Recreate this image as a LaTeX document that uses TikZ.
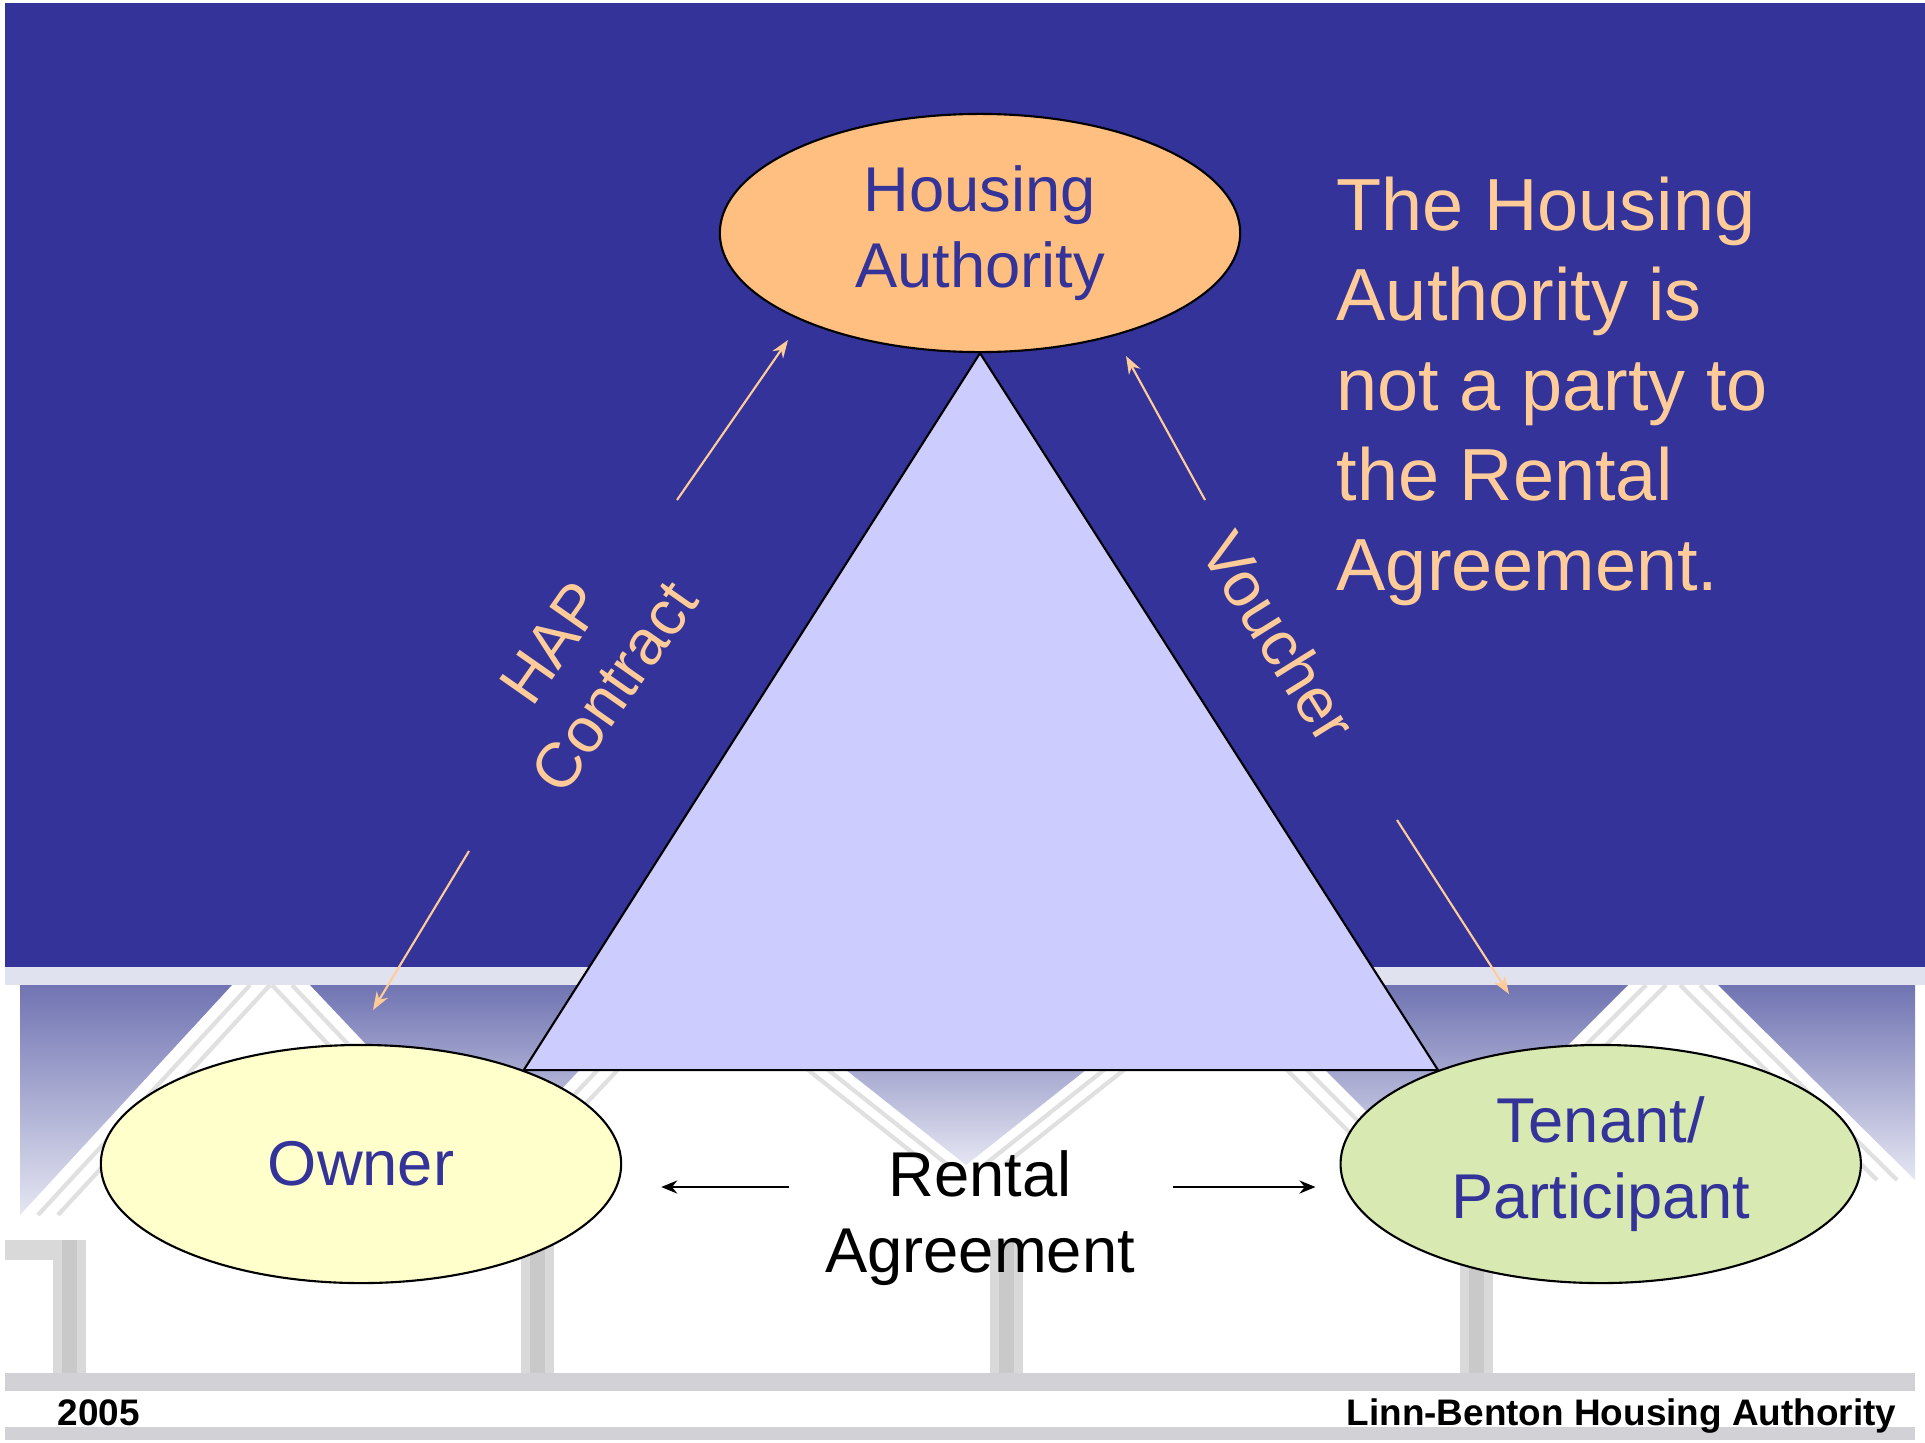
\documentclass[tikz,border=0pt]{standalone}
\usepackage{fontspec}
\setmainfont{Liberation Sans}
\usepackage{tikz}
\usetikzlibrary{arrows.meta, shapes.geometric, calc, positioning}
\definecolor{slideblue}{RGB}{51,51,153}
\definecolor{peach}{RGB}{255,204,153}
\definecolor{haorange}{RGB}{255,191,128}
\definecolor{ownyellow}{RGB}{255,255,204}
\definecolor{tengreen}{RGB}{216,234,178}
\definecolor{trililac}{RGB}{204,204,255}
\definecolor{roofblue}{RGB}{112,116,178}
\definecolor{rooflight}{RGB}{212,213,234}
\definecolor{bargray}{RGB}{210,210,214}

\begin{document}
\begin{tikzpicture}[x=0.01cm, y=-0.01cm, node distance=12.39cm, party/.style={ellipse, draw, line width=0.6pt, minimum width=5.2cm, minimum height=2.38cm, inner sep=0pt, align=center, text=slideblue, font=\fontsize{18}{21.6}\selectfont}, flow/.style={draw=peach, line width=0.6pt, -{Stealth[length=0.18cm, width=0.13cm]}}, deal/.style={draw=black, line width=0.7pt, -{Stealth[length=0.16cm, width=0.13cm]}}, lbl/.style={text=peach, align=center, inner sep=0pt, font=\fontsize{18}{21.6}\selectfont}, stripe/.style={draw=black!12, line width=1.2pt}, post/.style={fill=black!15}]
\useasboundingbox (0,0) rectangle (1925,1442);
\fill[white] (0,0) rectangle (1925,1442);
% faded roof behind the lower half
\fill[rooflight!70] (5,967) rectangle (1925,985);
\foreach \xa/\xb/\xm/\ym in {20/232/20/1215, 310/660/485/1170, 739/1193/966/1165, 1240/1628/1434/1179, 1718/1915/1915/1180}
  \shade[top color=roofblue, bottom color=rooflight!60] (\xa,985) -- (\xb,985) -- (\xm,\ym) -- cycle;
\foreach \xa/\xb/\yb/\o in {232/20/1215/18, 232/20/1215/38, 310/485/1170/-18, 310/485/1170/-38, 660/485/1170/18, 660/485/1170/38, 739/966/1165/-18, 739/966/1165/-38, 1193/966/1165/18, 1193/966/1165/38, 1240/1434/1179/-18, 1240/1434/1179/-38, 1628/1434/1179/18, 1628/1434/1179/38, 1718/1915/1180/-18, 1718/1915/1180/-38}
  \draw[stripe] ({\xa+(\o)},985) -- ({\xb+(\o)},\yb);
\fill[post] (5,1240) rectangle (86,1260);
\foreach \px in {53, 521, 990, 1460} {
  \fill[post] (\px,1240) rectangle ++(33,133);
  \fill[black!21] ({\px+9},1240) rectangle ++(15,133);
}
\fill[bargray] (5,1373) rectangle (1915,1391);
\fill[bargray] (5,1427) rectangle (1915,1440);
\fill[slideblue] (5,3) rectangle (1925,967);

\node[party, fill=haorange] (HA) at (980,233) {Housing\\Authority};
\node[party, fill=ownyellow] (OWNER) at (361,1164) {Owner};
\node[party, fill=tengreen] (TENANT) [right of=OWNER] {Tenant/\\Participant};
\filldraw[fill=trililac, line width=0.6pt] (HA.south) -- (OWNER.30) -- (TENANT.150) -- cycle;
\node[align=center, inner sep=0pt, font=\fontsize{18}{21.6}\selectfont] (RENTAL) at (980,1218) {Rental\\Agreement};
\node[lbl, rotate=55] (HAP) at (583,665) {HAP\\Contract};
\node[lbl, rotate=-58] (VOUCHER) at (1279,637) {Voucher};
\node[anchor=north west, inner sep=0pt, align=left, text=peach, font=\fontsize{21}{25.6}\selectfont] (NOTE) at (1336,176) {The Housing\\Authority is\\not a party to\\the Rental\\Agreement.};
\node[anchor=base west, inner sep=0pt, font=\bfseries\fontsize{10.5}{12}\selectfont] (YEAR) at (57,1425) {2005};
\node[anchor=base east, inner sep=0pt, font=\bfseries\fontsize{10.5}{12}\selectfont] (LBHA) at (1897,1425) {Linn-Benton Housing Authority};

\coordinate (h1) at (677,500); \coordinate (h2) at (788,340);
\coordinate (h3) at (469,851); \coordinate (h4) at (373,1010);
\coordinate (v1) at (1205,500); \coordinate (v2) at (1126,356);
\coordinate (v3) at (1397,820); \coordinate (v4) at (1509,994);
\draw[flow] (h1) -- (h2);
\draw[flow] (h3) -- (h4);
\draw[flow] (v1) -- (v2);
\draw[flow] (v3) -- (v4);
\draw[deal] ($(RENTAL.west)+(-35,-31)$) -- ($(RENTAL.west -| OWNER.east)+(39,-31)$);
\draw[deal] ($(RENTAL.east)+(37,-31)$) -- ($(RENTAL.east -| TENANT.west)+(-24,-31)$);
\end{tikzpicture}
\end{document}
